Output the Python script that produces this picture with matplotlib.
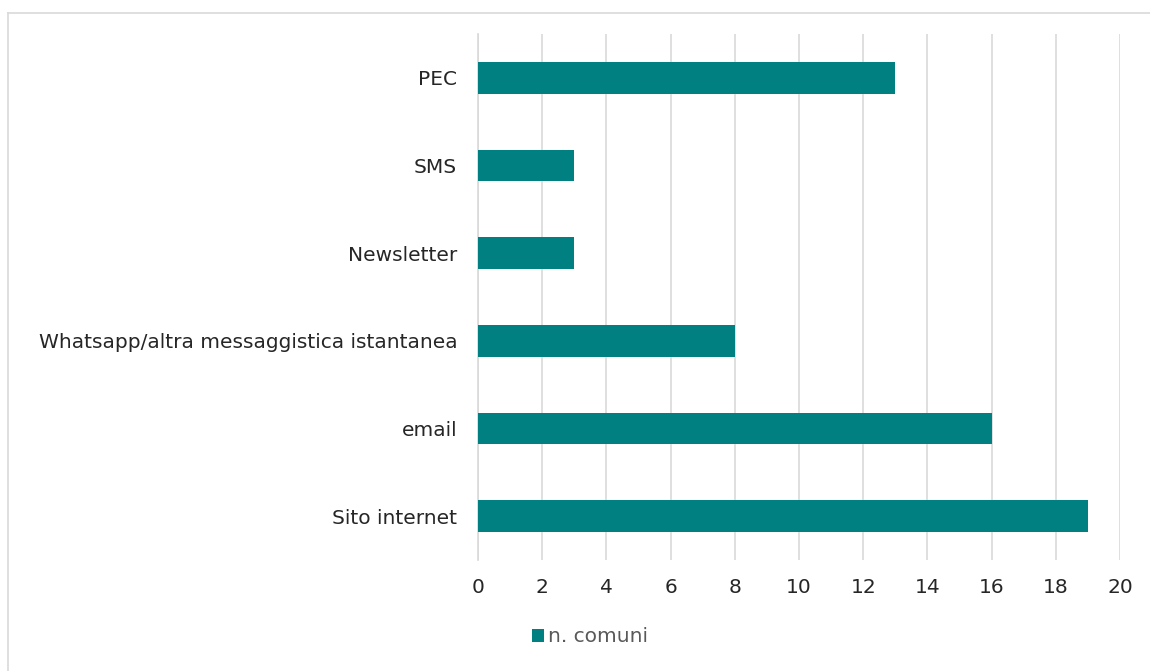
import matplotlib.pyplot as plt
from matplotlib.lines import Line2D

# data
categories = ["Sito internet", "email", "Whatsapp/altra messaggistica istantanea",
              "Newsletter", "SMS", "PEC"]
n_comuni = [19, 16, 8, 3, 3, 13]
x_ticks = [0, 2, 4, 6, 8, 10, 12, 14, 16, 18, 20]

plt.rcParams['font.family'] = ['DejaVu Sans']

fig = plt.figure(figsize=(11.5, 6.71), dpi=100)
ax = fig.add_axes([478 / 1150, 1 - 560 / 671, 642 / 1150, 526 / 671])

teal = '#008080'
ax.barh(range(len(categories)), n_comuni, height=0.365, color=teal, label='n. comuni', zorder=3)

ax.set_xlim(0, 20)
ax.set_ylim(-0.5, len(categories) - 0.5)
ax.set_xticks(x_ticks)
ax.set_xticklabels([str(t) for t in x_ticks], fontsize=14.5, color='#262626')
ax.set_yticks(range(len(categories)))
ax.set_yticklabels(categories, fontsize=14.5, color='#262626')
ax.tick_params(length=0, pad=15)
ax.tick_params(axis='x', pad=13)

ax.grid(axis='x', color='#d9d9d9', linewidth=1.2, zorder=0)
for s in ['top', 'right', 'bottom']:
    ax.spines[s].set_visible(False)
ax.spines['left'].set_color('#d9d9d9')
ax.spines['left'].set_linewidth(1.2)

leg = fig.legend(loc='center', bbox_to_anchor=(590 / 1150, 1 - 637 / 671), frameon=False,
                 fontsize=14.5, handlelength=0.6, handleheight=0.6, handletextpad=0.2)
for t in leg.get_texts():
    t.set_color('#595959')

# chart frame (partly cut off on right/bottom)
fig.add_artist(Line2D([8 / 1150, 8 / 1150], [0, 1 - 13 / 671], color='#d9d9d9', lw=1.2,
                      transform=fig.transFigure))
fig.add_artist(Line2D([8 / 1150, 1], [1 - 13 / 671, 1 - 13 / 671], color='#d9d9d9', lw=1.2,
                      transform=fig.transFigure))

fig.savefig('out.png', dpi=100, facecolor='white')
